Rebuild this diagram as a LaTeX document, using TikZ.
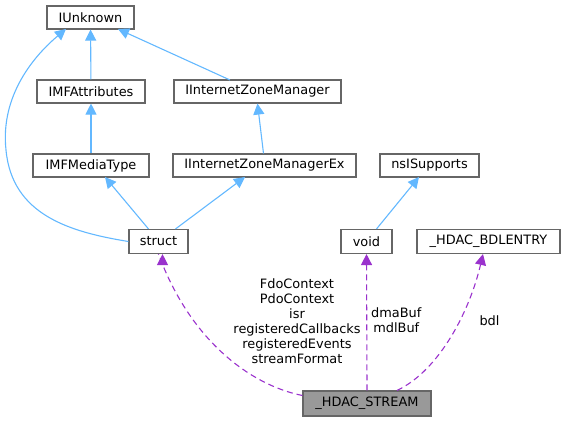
\documentclass[tikz,border=0pt]{standalone}
\usepackage{fontspec}
\setmainfont{DejaVu Sans}
\usetikzlibrary{arrows.meta}
\definecolor{edgeblue}{HTML}{63B8FF}
\definecolor{edgepurple}{HTML}{9A32CD}
\definecolor{boxgray}{HTML}{666666}
\definecolor{fillgray}{HTML}{999999}
\begin{document}
\begin{tikzpicture}[x=1bp,y=-1bp,
  box/.style={draw=boxgray,line width=1.1bp,fill=white,inner sep=0pt,minimum height=23bp,
    font=\fontsize{12.9bp}{15bp}\selectfont,text=black},
  inh/.style={draw=edgeblue,line width=1.1bp,-{Triangle[length=11bp,width=11bp]}},
  mem/.style={draw=edgepurple,line width=1.1bp,dash pattern=on 6bp off 4bp,-{Triangle[length=11bp,width=11bp]}},
  lbl/.style={inner sep=0pt,align=center,font=\fontsize{12.9bp}{15bp}\selectfont,text=black}]
\useasboundingbox (0,0) rectangle (565,421);
\node[box,minimum width=87bp] (iunk) at (90.5,17.5) {IUnknown};
\node[box,minimum width=108bp] (imfa) at (91,91.5) {IMFAttributes};
\node[box,minimum width=167bp] (izm) at (257.5,91.5) {IInternetZoneManager};
\node[box,minimum width=116bp] (imfm) at (91,165.5) {IMFMediaType};
\node[box,minimum width=183bp] (izmex) at (264.5,165.5) {IInternetZoneManagerEx};
\node[box,minimum width=99bp] (nsis) at (429.5,165.5) {nsISupports};
\node[box,minimum width=59bp,minimum height=24bp] (struct) at (158.5,241.5) {struct};
\node[box,minimum width=51bp,minimum height=24bp] (void) at (366.5,241.5) {void};
\node[box,minimum width=143bp,minimum height=24bp] (bdl) at (488.5,241.5) {\_HDAC\_BDLENTRY};
\node[box,fill=fillgray,minimum width=128bp,minimum height=25bp] (stream) at (367,403.5) {\_HDAC\_STREAM};
\coordinate (iunkA) at (66,29);
\coordinate (iunkB) at (118,29);
\coordinate (izmT) at (230,80);
\draw[inh] (imfa) -- (iunk);
\draw[inh] (izmT) -- (iunkB);
\draw[inh] (imfm) -- (imfa);
\draw[inh] (izmex.north) ++(-1,0) -- (izm.south);
\draw[inh] (struct.north) ++(-10,0) -- (105,177);
\draw[inh] (struct.north) ++(17,0) -- (245,177);
\draw[inh] (void.north) ++(10,0) -- (419,177);
\draw[inh] (struct.west) .. controls (70,232) and (12,215) .. (6,150)
  .. controls (0,95) and (35,55) .. (iunkA);
\draw[mem] (stream.west) ++(0,-8) .. controls (250,385) and (190,340) .. (struct.south) ++(4,0);
\draw[mem] (stream.north) -- (void.south);
\draw[mem] (stream.north) ++(30,0) .. controls (440,370) and (470,310) .. (483,254);
\node[lbl] (l1) at (297,321) {FdoContext\\PdoContext\\isr\\registeredCallbacks\\registeredEvents\\streamFormat};
\node[lbl,anchor=west] (l2) at (371,320.5) {dmaBuf\\mdlBuf};
\node[lbl] (l3) at (489.5,321) {bdl};
\end{tikzpicture}
\end{document}
